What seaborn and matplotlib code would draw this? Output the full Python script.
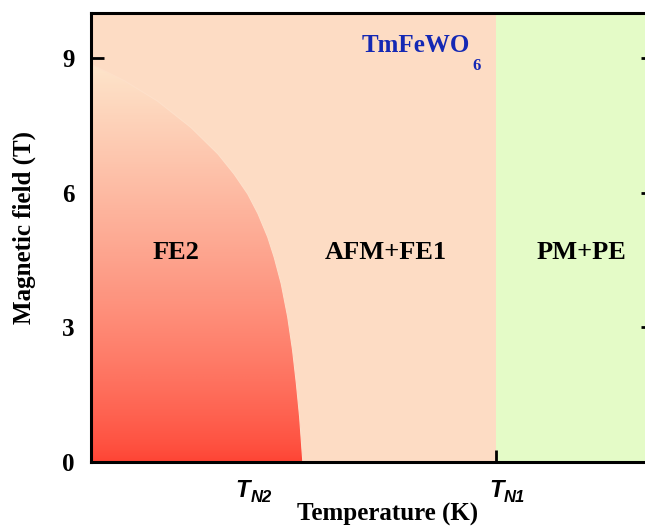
import numpy as np
import matplotlib
matplotlib.use("Agg")
import matplotlib.pyplot as plt
import seaborn as sns
from matplotlib.colors import LinearSegmentedColormap
from matplotlib.patches import Polygon

# FE2 / AFM+FE1 phase boundary: temperature (K) and magnetic field (T)
fe2_T = [0.0, 6.2, 12.3, 18.5, 23.5, 26.5, 29.0, 30.9, 32.7, 33.9, 35.2,
         36.4, 37.3, 38.0, 38.6, 39.2]
fe2_H = [8.86, 8.49, 8.04, 7.45, 6.86, 6.41, 5.97, 5.53, 5.01, 4.56, 3.97,
         3.23, 2.49, 1.75, 1.01, 0.0]

# Transition temperatures (K)
T_N2 = 28.1
T_N1 = 75.0
T_max = 104.0
H_max = 10.0

# Phase labels and their positions (T, H)
phase_names = ["FE2", "AFM+FE1", "PM+PE"]
phase_T = [15.8, 54.6, 90.7]
phase_H = [4.53, 4.53, 4.53]

y_ticks = [0, 3, 6, 9]
x_tick_names = ["N2", "N1"]

red = "#FF4434"
cream = "#FDE4CA"
peach = "#FDDCC4"
green = "#E4FBC7"
blue = "#1428B4"

sns.set_theme(style="ticks")
plt.rcParams["font.family"] = ["Liberation Serif", "DejaVu Serif"]
plt.rcParams.update({"text.color": "black", "axes.labelcolor": "black",
                     "xtick.color": "black", "ytick.color": "black",
                     "axes.edgecolor": "black"})

fig = plt.figure(figsize=(6.45, 5.30), dpi=100)
ax = fig.add_axes([91 / 645, 68 / 530, 562 / 645, 449 / 530])

# Background phases
ax.axvspan(0, T_N1, color=peach, lw=0, zorder=0)
ax.axvspan(T_N1, T_max, color=green, lw=0, zorder=0)

# FE2 region: vertical gradient clipped to the phase boundary
cmap = LinearSegmentedColormap.from_list("fe2", [red, cream])
grad = np.linspace(0, 1, 256)[:, None] ** 0.78
im = ax.imshow(grad, cmap=cmap, extent=(0, max(fe2_T), 0, max(fe2_H)),
               origin="lower", aspect="auto", zorder=1, interpolation="bicubic")
poly = Polygon(np.column_stack([[0.0] + fe2_T, [0.0] + fe2_H]), closed=True,
               facecolor="none", edgecolor="none", transform=ax.transData)
ax.add_patch(poly)
im.set_clip_path(poly)
sns.lineplot(x=fe2_T, y=fe2_H, ax=ax, color="#FDE0CA", lw=0.8, sort=False,
             zorder=2)

ax.set_xlim(0, T_max)
ax.set_ylim(0, H_max)

# Axes styling
for sp in ax.spines.values():
    sp.set_linewidth(2.2)
    sp.set_color("black")
ax.set_yticks(y_ticks)
ax.set_yticklabels([str(v) for v in y_ticks], fontsize=18, fontweight="bold")
ax.set_xticks([T_N2, T_N1])
ax.set_xticklabels([])
ax.tick_params(axis="both", direction="in", length=9, width=2, color="black",
               right=True, top=False, labelright=False)
ax.tick_params(axis="y", pad=12)

# Transition temperature labels
for t, sub in zip([T_N2, T_N1], x_tick_names):
    ax.annotate("T", xy=(t, 0), xycoords=("data", "axes fraction"),
                xytext=(0, -25), textcoords="offset points",
                ha="center", va="baseline", fontsize=17, fontweight="bold",
                style="italic", family="Liberation Sans", color="black")
    ax.annotate(sub, xy=(t, 0), xycoords=("data", "axes fraction"),
                xytext=(5.5, -29), textcoords="offset points",
                ha="left", va="baseline", fontsize=12, fontweight="bold",
                style="italic", family="Liberation Sans", color="black")

ax.set_xlabel("Temperature (K)", fontsize=18, fontweight="bold")
ax.xaxis.set_label_coords(0.527, -0.091)
ax.set_ylabel("Magnetic field (T)", fontsize=18, fontweight="bold")
ax.yaxis.set_label_coords(-0.098, 0.523)

# Phase names
for name, t, h in zip(phase_names, phase_T, phase_H):
    ax.text(t, h, name, ha="center", va="baseline", fontsize=19,
            fontweight="bold", color="black", zorder=3)

# Compound name
ax.text(70.2, 9.13, "TmFeWO", ha="right", va="baseline", fontsize=18,
        fontweight="bold", color=blue, zorder=3)
ax.text(70.6, 8.73, "6", ha="left", va="baseline", fontsize=12,
        fontweight="bold", color=blue, zorder=3)

fig.savefig("out.png", dpi=100)
